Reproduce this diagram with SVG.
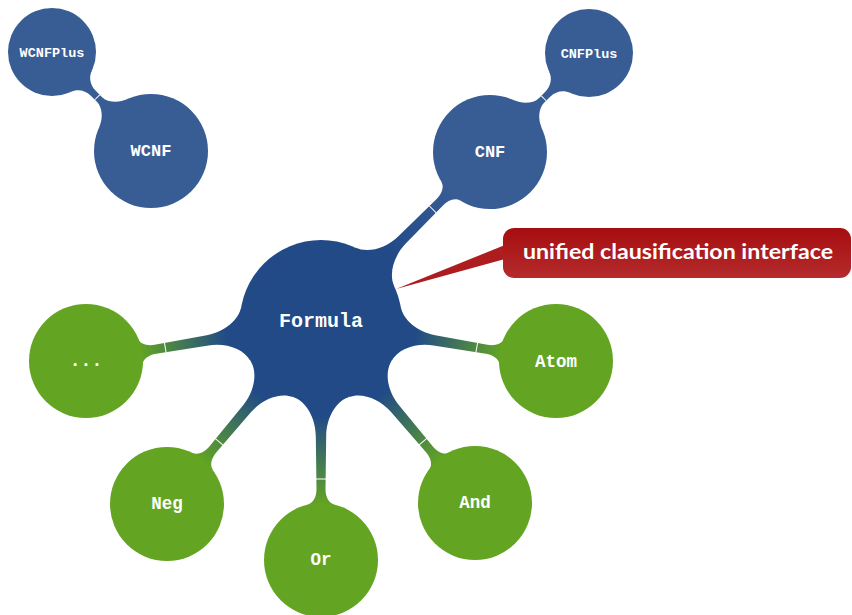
<svg xmlns="http://www.w3.org/2000/svg" xmlns:xlink="http://www.w3.org/1999/xlink" width="852" height="615" viewBox="0 0 852 615">
<style>
.lbl{font-family:"Liberation Mono","Courier New",monospace;font-weight:bold;fill:#ffffff;text-anchor:middle}
.blue{fill:#385c94}
.core{fill:#214a87}
.green{fill:#63a522}
.tick{stroke:#ffffff;stroke-width:1}
.call{font-family:Lato,"Open Sans",sans-serif;font-weight:bold;font-size:20px;fill:#ffffff;text-anchor:middle}
</style>
<defs>
<linearGradient id="gGreen" gradientUnits="userSpaceOnUse" x1="95" y1="0" x2="185" y2="0">
<stop offset="0" stop-color="#214a87"/>
<stop offset="1" stop-color="#63a522"/>
</linearGradient>
<linearGradient id="gBlue" gradientUnits="userSpaceOnUse" x1="95" y1="0" x2="185" y2="0">
<stop offset="0" stop-color="#214a87"/>
<stop offset="1" stop-color="#385c94"/>
</linearGradient>
<linearGradient id="gRed" x1="0" y1="0" x2="0" y2="1">
<stop offset="0" stop-color="#a60d11"/>
<stop offset="1" stop-color="#b52b2b"/>
</linearGradient>
<g id="bigLink">
<path d="M76.1,-27.7 C80.9,-14.5 97,-5.5 115,-5.2 L168,-4.5 C175,-4.5 182,-7 183.7,-13.8 L183.7,13.8 C182,7 175,4.5 168,4.5 L115,5.2 C97,5.5 80.9,14.5 76.1,27.7 Z"/>
<line class="tick" x1="158" y1="-5" x2="158" y2="5"/>
</g>
<g id="smallLink">
<path d="M53.6,-19.5 C56.7,-11 65,-3.5 73,-3.5 L82,-3.5 C89,-3.5 96,-7.5 98.7,-15 L98.7,15 C96,7.5 89,3.5 82,3.5 L73,3.5 C65,3.5 56.7,11 53.6,19.5 Z"/>
<line class="tick" x1="76" y1="-3.5" x2="76" y2="3.5"/>
</g>
</defs>

<g id="connectors">
<use xlink:href="#bigLink" href="#bigLink" fill="url(#gGreen)" transform="translate(321,321) rotate(170.34)"/>
<use xlink:href="#bigLink" href="#bigLink" fill="url(#gGreen)" transform="translate(321,321) rotate(9.66)"/>
<use xlink:href="#bigLink" href="#bigLink" fill="url(#gGreen)" transform="translate(321,321) rotate(90)"/>
<use xlink:href="#bigLink" href="#bigLink" fill="url(#gGreen)" transform="translate(321,321) rotate(130.1)"/>
<use xlink:href="#bigLink" href="#bigLink" fill="url(#gGreen)" transform="translate(321,321) rotate(49.8)"/>
<use xlink:href="#bigLink" href="#bigLink" fill="url(#gBlue)" transform="translate(321,321) rotate(-45)"/>
<use xlink:href="#smallLink" href="#smallLink" fill="#385c94" transform="translate(151,151) rotate(-135)"/>
<use xlink:href="#smallLink" href="#smallLink" fill="#385c94" transform="translate(490,152) rotate(-45)"/>
</g>

<g id="callout">
<polygon points="505,245 505,259 396,289" fill="#ad1c1e"/>
<rect x="503" y="228" width="348" height="50" rx="11" ry="11" fill="url(#gRed)"/>
<text class="call" x="678" y="259" textLength="310" lengthAdjust="spacingAndGlyphs">unified clausification interface</text>
</g>

<g id="node-wcnfplus">
<circle class="blue" cx="52" cy="52" r="44"/>
<text class="lbl" x="52" y="56.5" font-size="13.5">WCNFPlus</text>
</g>
<g id="node-wcnf">
<circle class="blue" cx="151" cy="151" r="57"/>
<text class="lbl" x="151" y="156" font-size="17">WCNF</text>
</g>
<g id="node-cnfplus">
<circle class="blue" cx="589" cy="53" r="44"/>
<text class="lbl" x="589" y="57.5" font-size="13.5">CNFPlus</text>
</g>
<g id="node-cnf">
<circle class="blue" cx="490" cy="152" r="57"/>
<text class="lbl" x="490" y="157" font-size="17">CNF</text>
</g>
<g id="node-formula">
<circle class="core" cx="321" cy="321" r="81"/>
<text class="lbl" x="321" y="327" font-size="20">Formula</text>
</g>
<g id="node-dots">
<circle class="green" cx="86" cy="361" r="57"/>
<text class="lbl" x="86" y="366" font-size="18">...</text>
</g>
<g id="node-atom">
<circle class="green" cx="556" cy="361" r="57"/>
<text class="lbl" x="556" y="367" font-size="17.5">Atom</text>
</g>
<g id="node-neg">
<circle class="green" cx="167" cy="504" r="57"/>
<text class="lbl" x="167" y="509" font-size="17.5">Neg</text>
</g>
<g id="node-or">
<circle class="green" cx="321" cy="560" r="57"/>
<text class="lbl" x="321" y="565" font-size="17.5">Or</text>
</g>
<g id="node-and">
<circle class="green" cx="475" cy="503" r="57"/>
<text class="lbl" x="475" y="508" font-size="17.5">And</text>
</g>
</svg>
